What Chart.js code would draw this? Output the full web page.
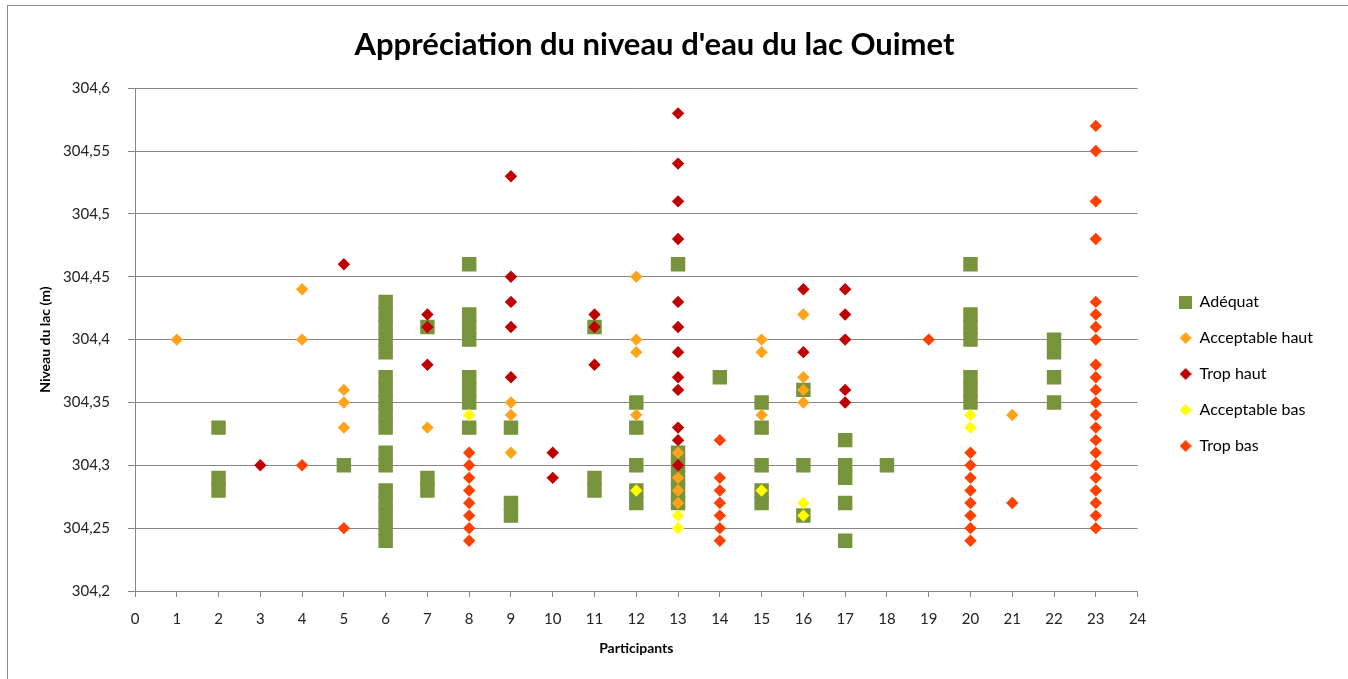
<!DOCTYPE html>
<html>
<head>
<meta charset="utf-8">
<script src="https://cdn.jsdelivr.net/npm/chart.js@4"></script>
<style>
  html, body { margin: 0; padding: 0; background: #fff; }
  #wrap { position: relative; width: 1348px; height: 679px; overflow: hidden; }
  #frame { position: absolute; left: 7px; top: 5px; width: 1400px; height: 700px;
           border-top: 1px solid #8c8c8c; border-left: 1px solid #8c8c8c; }
  canvas { position: absolute; left: 0; top: 0; }
</style>
</head>
<body>
<div id="wrap">
  <div id="frame"></div>
  <canvas id="myChart" width="1348" height="679"></canvas>
</div>
<script>
// niveau du lac (m) par participant
const adequat = [
  [2, [304.33, 304.29, 304.28]],
  [5, [304.30]],
  [6, [304.43, 304.42, 304.41, 304.40, 304.39, 304.37, 304.36, 304.35, 304.34, 304.33,
       304.31, 304.30, 304.28, 304.27, 304.26, 304.25, 304.24]],
  [7, [304.41, 304.29, 304.28]],
  [8, [304.46, 304.42, 304.41, 304.40, 304.37, 304.36, 304.35, 304.33]],
  [9, [304.33, 304.27, 304.26]],
  [11, [304.41, 304.29, 304.28]],
  [12, [304.35, 304.33, 304.30, 304.28, 304.27]],
  [13, [304.46, 304.31, 304.30, 304.29, 304.28, 304.27]],
  [14, [304.37]],
  [15, [304.35, 304.33, 304.30, 304.28, 304.27]],
  [16, [304.36, 304.30, 304.26]],
  [17, [304.32, 304.30, 304.29, 304.27, 304.24]],
  [18, [304.30]],
  [20, [304.46, 304.42, 304.41, 304.40, 304.37, 304.36, 304.35]],
  [22, [304.40, 304.39, 304.37, 304.35]]
];

const acceptableHaut = [
  [1, [304.40]],
  [4, [304.44, 304.40]],
  [5, [304.36, 304.35, 304.33]],
  [7, [304.33]],
  [9, [304.35, 304.34, 304.31]],
  [12, [304.45, 304.40, 304.39, 304.34]],
  [13, [304.31, 304.29, 304.28, 304.27]],
  [15, [304.40, 304.39, 304.34]],
  [16, [304.42, 304.37, 304.36, 304.35]],
  [21, [304.34]]
];

const tropHaut = [
  [3, [304.30]],
  [5, [304.46]],
  [7, [304.42, 304.41, 304.38]],
  [9, [304.53, 304.45, 304.43, 304.41, 304.37]],
  [10, [304.31, 304.29]],
  [11, [304.42, 304.41, 304.38]],
  [13, [304.58, 304.54, 304.51, 304.48, 304.43, 304.41, 304.39, 304.37, 304.36,
        304.33, 304.32, 304.30]],
  [16, [304.44, 304.39]],
  [17, [304.44, 304.42, 304.40, 304.36, 304.35]]
];

const acceptableBas = [
  [8, [304.34]],
  [12, [304.28]],
  [13, [304.26, 304.25]],
  [15, [304.28]],
  [16, [304.27, 304.26]],
  [20, [304.34, 304.33]]
];

const tropBas = [
  [4, [304.30]],
  [5, [304.25]],
  [8, [304.31, 304.30, 304.29, 304.28, 304.27, 304.26, 304.25, 304.24]],
  [14, [304.32, 304.29, 304.28, 304.27, 304.26, 304.25, 304.24]],
  [19, [304.40]],
  [20, [304.31, 304.30, 304.29, 304.28, 304.27, 304.26, 304.25, 304.24]],
  [21, [304.27]],
  [23, [304.57, 304.55, 304.51, 304.48, 304.43, 304.42, 304.41, 304.40,
        304.38, 304.37, 304.36, 304.35, 304.34, 304.33, 304.32, 304.31,
        304.30, 304.29, 304.28, 304.27, 304.26, 304.25]]
];

const seriesNames = ["Adéquat", "Acceptable haut", "Trop haut", "Acceptable bas", "Trop bas"];
const xTicks = [0, 24];
const yTicks = [304.2, 304.6, 0.05];

function toPoints(list) {
  const pts = [];
  list.forEach(([p, levels]) => levels.forEach((v) => pts.push({ x: p, y: v })));
  return pts;
}

const colors = ["#77933c", "#ffa31a", "#c00000", "#ffff00", "#ff4000"];
const styles = ["rect", "rectRot", "rectRot", "rectRot", "rectRot"];

// petits marqueurs pour la légende
function legendMarker(style, color) {
  const c = document.createElement("canvas");
  const s = style === "rect" ? 13 : 12;
  c.width = s; c.height = s;
  const g = c.getContext("2d");
  g.fillStyle = color;
  if (style === "rect") {
    g.fillRect(0, 0, s, s);
  } else {
    g.beginPath();
    g.moveTo(s / 2, 0); g.lineTo(s, s / 2); g.lineTo(s / 2, s); g.lineTo(0, s / 2);
    g.closePath(); g.fill();
  }
  return c;
}
const markers = styles.map((st, i) => legendMarker(st, colors[i]));

const allSeries = [adequat, acceptableHaut, tropHaut, acceptableBas, tropBas];
const datasets = allSeries.map((s, i) => ({
  label: seriesNames[i],
  data: toPoints(s),
  backgroundColor: colors[i],
  borderColor: colors[i],
  borderWidth: 0,
  pointStyle: styles[i],
  pointRadius: i === 0 ? 10.2 : 6.2,
  pointHoverRadius: i === 0 ? 10.2 : 6.2,
  order: 5 - i
}));

const fmt = (v) => String(Math.round(v * 100) / 100).replace(".", ",");

// décale la légende comme dans Excel
const legendShift = {
  id: "legendShift",
  afterLayout(chart) {
    const lg = chart.legend;
    lg.left += 22; lg.right += 22;
    lg.top += 41; lg.bottom += 41;
  }
};

const ctx = document.getElementById("myChart").getContext("2d");
const myChart = new Chart(ctx, {
  type: "scatter",
  data: { datasets },
  plugins: [legendShift],
  options: {
    responsive: false,
    animation: false,
    events: [],
    layout: { padding: { left: 8, right: 47, top: 5, bottom: 18 } },
    plugins: {
      title: {
        display: true,
        text: "Appréciation du niveau d'eau du lac Ouimet",
        color: "#000",
        font: { family: "Lato", size: 31, weight: "bold" },
        padding: { top: 21, bottom: 25 }
      },
      legend: {
        position: "right",
        labels: {
          usePointStyle: true,
          boxWidth: 12,
          boxHeight: 12,
          padding: 20,
          color: "#000",
          font: { family: "Lato", size: 16 },
          sort: (a, b) => a.datasetIndex - b.datasetIndex,
          generateLabels: (chart) => {
            const items = Chart.defaults.plugins.legend.labels.generateLabels(chart);
            items.forEach((it) => { it.pointStyle = markers[it.datasetIndex]; });
            return items;
          }
        }
      },
      tooltip: { enabled: false }
    },
    scales: {
      x: {
        type: "linear",
        min: xTicks[0],
        max: xTicks[1],
        ticks: { stepSize: 1, color: "#222", font: { family: "Lato", size: 15 }, padding: 13 },
        grid: { drawOnChartArea: false, drawTicks: true, tickLength: 6, color: "#868686" },
        border: { color: "#868686" },
        title: {
          display: true,
          text: "Participants",
          color: "#000",
          font: { family: "Lato", size: 14, weight: "bold" },
          padding: { top: 8 }
        },
        afterFit: (scale) => { scale.height = 70; }
      },
      y: {
        min: yTicks[0],
        max: yTicks[1],
        ticks: {
          stepSize: yTicks[2],
          color: "#222",
          font: { family: "Lato", size: 15 },
          padding: 18,
          callback: (v) => fmt(v)
        },
        grid: { color: "#868686", tickLength: 7 },
        border: { color: "#868686" },
        title: {
          display: true,
          text: "Niveau du lac (m)",
          color: "#000",
          font: { family: "Lato", size: 14, weight: "bold" },
          padding: { top: 29, bottom: 0 }
        },
        afterFit: (scale) => { scale.width = 127; }
      }
    }
  }
});
</script>
</body>
</html>
